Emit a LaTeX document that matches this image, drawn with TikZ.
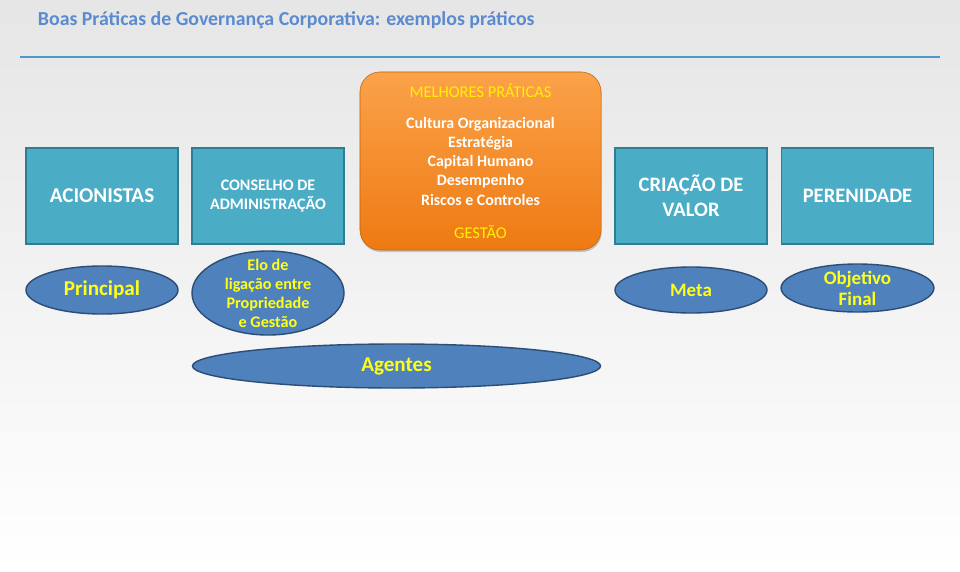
\documentclass[tikz,border=0pt]{standalone}
\usepackage{fontspec}
\setmainfont{Carlito}
\usetikzlibrary{shadows}
\usetikzlibrary{positioning}
\usetikzlibrary{shapes}
\definecolor{titleblue}{HTML}{5A8AD0}
\definecolor{ruleblue}{HTML}{4A9CC8}
\definecolor{tealfill}{HTML}{4BACC6}
\definecolor{tealline}{HTML}{2F7D93}
\definecolor{ovalfill}{HTML}{4F81BD}
\definecolor{ovalline}{HTML}{2C4D75}
\definecolor{orangetop}{HTML}{FBA24A}
\definecolor{orangebot}{HTML}{EE7A12}
\definecolor{ovaltext}{HTML}{FFFF1A}
\tikzstyle{pillar}=[rectangle,fill=tealfill,draw=tealline,line width=1.2pt,minimum width=3.8cm,minimum height=2.4cm,inner sep=2pt,text=white,align=center]
\tikzstyle{oval}=[ellipse,fill=ovalfill,draw=ovalline,line width=1pt,inner sep=0pt,text=ovaltext,align=center,font=\bfseries]
\tikzstyle{bestbox}=[rectangle,rounded corners=0.5cm,top color=orangetop,bottom color=orangebot,draw=orangebot!80!black,minimum width=6.025cm,minimum height=4.45cm,drop shadow={shadow xshift=0.5pt,shadow yshift=-1.5pt,opacity=0.4}]
\tikzstyle{bestline}=[text=white,font=\fontsize{11.3}{13}\selectfont\bfseries]

\begin{document}
\begin{tikzpicture}[x=0.025cm, y=-0.025cm]

  % fundo
  \shade[top color=black!10!white, bottom color=white] (0,0) rectangle (960,572);
  \useasboundingbox (0,0) rectangle (960,572);

  \node[anchor=west, text=titleblue, font=\fontsize{14.1}{16}\selectfont\bfseries] (titulo) at (33,20) {Boas Práticas de Governança Corporativa: exemplos práticos};
  \coordinate (r1) at (20,57);
  \coordinate (r2) at (940,57);
  \draw[ruleblue, line width=1.3pt] (r1) -- (r2);

  % pilares
  \foreach \x/\name/\label/\fs/\ls in {102/acion/ACIONISTAS/15/18, 268/conselho/{CONSELHO DE\\ADMINISTRAÇÃO}/11.4/14, 691/criacao/{CRIAÇÃO DE\\VALOR}/14.6/17.5, 857.5/pereni/PERENIDADE/14.6/18}
     \node[pillar, font=\fontsize{\fs}{\ls}\selectfont\bfseries] (\name) at (\x,196) {\label};

  % melhores praticas
  \node[bestbox] (gestao) at (480.5,161) {};
  \node[text=yellow, font=\fontsize{11.7}{13}\selectfont] (melhores) at (480.5,91) {MELHORES PRÁTICAS};
  \foreach \y/\name/\label in {124/cultura/Cultura Organizacional, 143/estrat/Estratégia, 162/capital/Capital Humano, 181/desemp/Desempenho, 200/riscos/Riscos e Controles}
     \node[bestline] (\name) at (480.5,\y) {\label};
  \node[text=yellow, font=\fontsize{11.7}{13}\selectfont] (gestaolbl) at (480.5,232) {GESTÃO};

  % papeis
  \node[oval, minimum width=3.8cm, minimum height=1.2cm, font=\fontsize{15}{18}\selectfont\bfseries] (principal) at (102,290) {Principal};
  \node[oval, inner sep=-6pt, minimum width=3.8cm, minimum height=2.1cm, font=\fontsize{11.5}{13.5}\selectfont\bfseries] (elo) at (268,293) {Elo de\\ligação entre\\Propriedade\\e Gestão};
  \node[oval, minimum width=3.8cm, minimum height=1.15cm, font=\fontsize{13.5}{16}\selectfont\bfseries] (meta) at (691,290) {Meta};
  \node[oval, inner sep=-2pt, minimum width=3.82cm, minimum height=1.2cm, font=\fontsize{13.5}{15}\selectfont\bfseries] (objetivo) at (857.5,288) {Objetivo\\Final};
  \node[oval, minimum width=10.2cm, minimum height=1.1cm, font=\fontsize{15}{18}\selectfont\bfseries] (agentes) at (396.5,366) {Agentes};

\end{tikzpicture}
\end{document}
